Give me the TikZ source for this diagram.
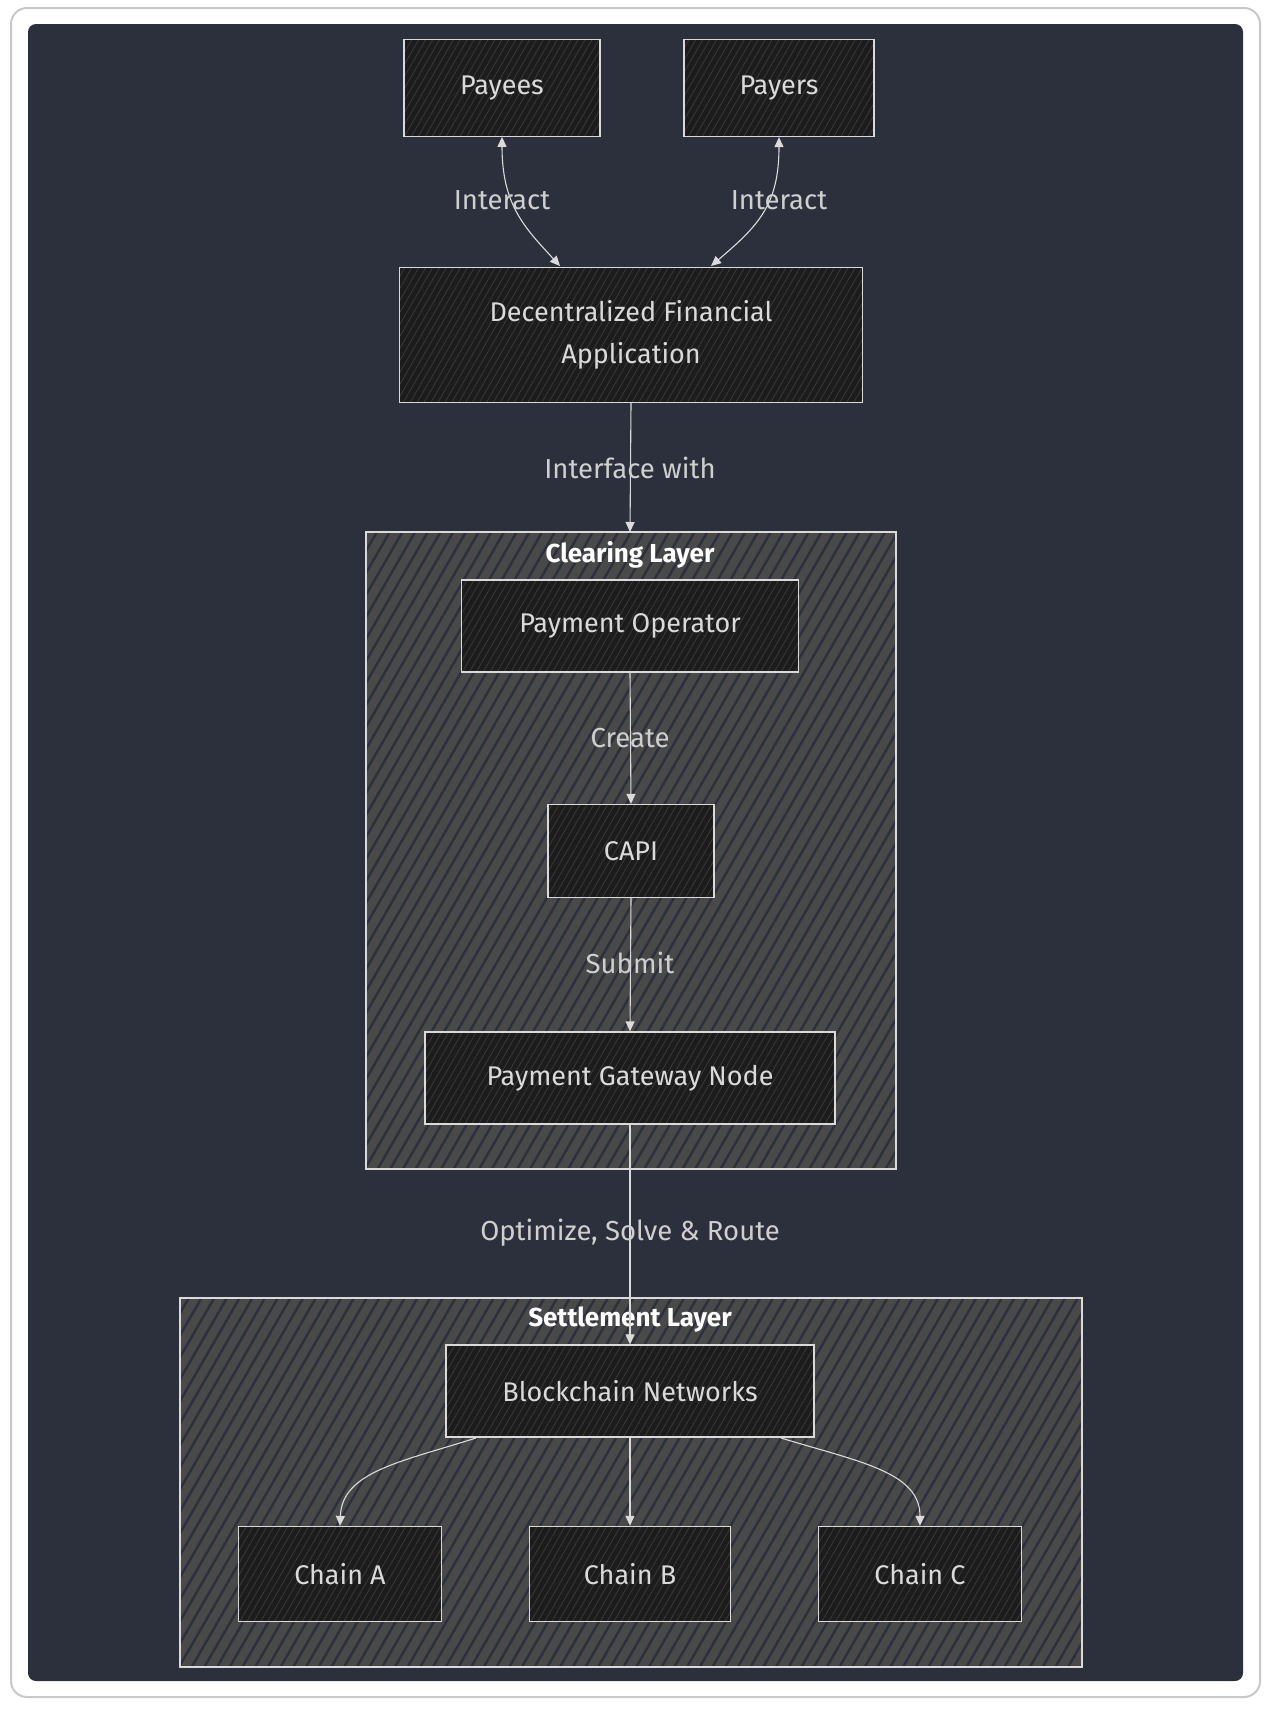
\documentclass[tikz,border=0pt]{standalone}
\usepackage{fontspec}
\setmainfont{Fira Sans}
\usetikzlibrary{arrows.meta, patterns.meta}
\definecolor{panel}{HTML}{2B303C}
\definecolor{ink}{HTML}{DADADA}
\definecolor{lblink}{HTML}{CFCFCF}
\definecolor{boxfill}{HTML}{1C1C1C}
\definecolor{boxhatch}{HTML}{3A3A3C}
\definecolor{layerfill}{HTML}{494949}
\definecolor{frame}{HTML}{C8C8C8}

\begin{document}
\begin{tikzpicture}[x = 1pt, y = -1pt, > = {Triangle[width=9pt, length=10pt]}, line width = 1.1pt,
    box/.style = {draw=ink, line width=1.3pt, preaction={fill=boxfill}, pattern={Lines[angle=60, distance=6pt, line width=0.8pt]}, pattern color=boxhatch, text=ink, align=center, font=\fontsize{27}{42}\selectfont, inner sep=0pt},
    layer/.style = {draw=ink, line width=1.3pt, preaction={fill=layerfill}, pattern={Lines[angle=60, distance=11pt, line width=2.4pt]}, pattern color=panel},
    title/.style = {text=white, font=\fontsize{26}{30}\selectfont\bfseries},
    lbl/.style = {text=lblink, font=\fontsize{27.5}{30}\selectfont},
    link/.style = {draw=ink, line width=1.1pt}]
    \useasboundingbox (0, 0) rectangle (1272, 1713);
    \fill[white] (0, 0) rectangle (1272, 1713);
    \draw[frame, line width=2pt, rounded corners=16pt] (11, 8) rectangle (1260, 1697);
    \fill[panel, rounded corners=8pt] (28, 24) rectangle (1243, 1681);

    % layers
    \draw[layer] (366, 532) rectangle (896, 1169);
    \node[title] (clearing) at (630, 555) {Clearing Layer};
    \draw[layer] (180, 1298) rectangle (1082, 1667);
    \node[title] (settlement) at (630, 1320) {Settlement Layer};

    % nodes
    \node[box, minimum width=196pt, minimum height=97pt] (payees) at (502, 88) {Payees};
    \node[box, minimum width=190pt, minimum height=97pt] (payers) at (779, 88) {Payers};
    \node[box, minimum width=463pt, minimum height=135pt] (dfa) at (631, 335) {Decentralized Financial\\Application};
    \node[box, minimum width=337pt, minimum height=92pt] (operator) at (630, 626) {Payment Operator};
    \node[box, minimum width=166pt, minimum height=93pt] (capi) at (631, 851) {CAPI};
    \node[box, minimum width=410pt, minimum height=92pt] (gateway) at (630, 1078) {Payment Gateway Node};
    \node[box, minimum width=368pt, minimum height=92pt] (networks) at (630, 1391) {Blockchain Networks};
    \node[box, minimum width=203pt, minimum height=95pt] (chainA) at (340, 1574) {Chain A};
    \node[box, minimum width=201pt, minimum height=95pt] (chainB) at (630, 1574) {Chain B};
    \node[box, minimum width=203pt, minimum height=95pt] (chainC) at (920, 1574) {Chain C};

    \coordinate (dfaL) at (560, 266);
    \coordinate (dfaR) at (711, 266);
    \coordinate (clearTop) at (630, 532);
    \coordinate (netL) at (476, 1438);
    \coordinate (netR) at (781, 1438);

    % connectors
    \draw[link, <->] (payees.south) .. controls (502, 205) and (525, 228) .. (dfaL);
    \draw[link, <->] (payers.south) .. controls (779, 205) and (758, 226) .. (dfaR);
    \draw[link, ->] (dfa.south) -- (clearTop);
    \draw[link, ->] (operator.south) -- (capi.north);
    \draw[link, ->] (capi.south) -- (gateway.north);
    \draw[link, ->] (gateway.south) -- (networks.north);
    \draw[link, ->] (netL) .. controls (400, 1462) and (342, 1472) .. (chainA.north);
    \draw[link, ->] (networks.south) -- (chainB.north);
    \draw[link, ->] (netR) .. controls (860, 1462) and (920, 1472) .. (chainC.north);

    % edge labels
    \node[lbl] (l1) at (502, 200) {Interact};
    \node[lbl] (l2) at (779, 200) {Interact};
    \node[lbl] (l3) at (630, 468) {Interface with};
    \node[lbl] (l4) at (630, 738) {Create};
    \node[lbl] (l5) at (630, 963) {Submit};
    \node[lbl] (l6) at (630, 1233) {Optimize, Solve \& Route};
\end{tikzpicture}
\end{document}
